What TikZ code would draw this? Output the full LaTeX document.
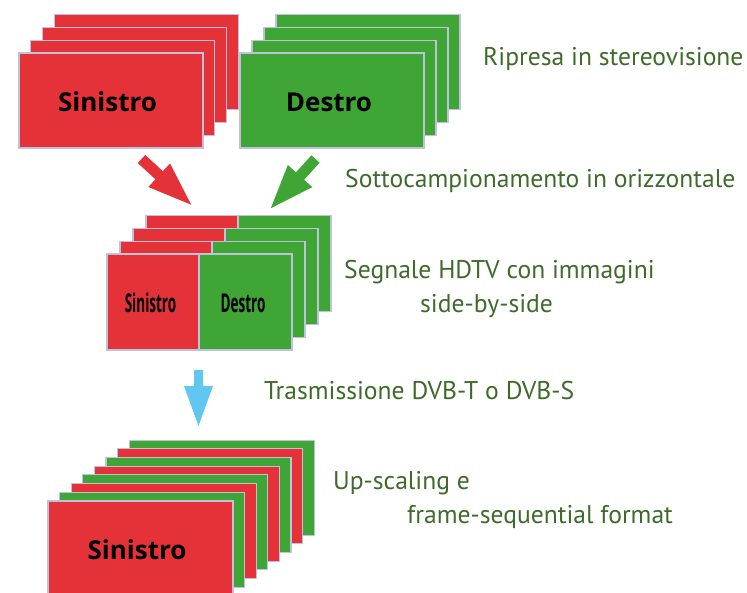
\documentclass[tikz,border=0pt]{standalone}
\usepackage{fontspec}
\setmainfont{PT Sans}
\newfontfamily\boxfont{Open Sans}
\definecolor{fred}{RGB}{229,49,56}
\definecolor{fgreen}{RGB}{63,165,53}
\definecolor{fblue}{RGB}{98,199,240}
\definecolor{ftext}{RGB}{62,106,42}
\definecolor{fedge}{RGB}{190,194,220}
\tikzset{
  frame/.style={draw=fedge, line width=1.1pt, anchor=north west, minimum width=184pt, minimum height=95pt, inner sep=0pt, outer sep=0pt},
  redframe/.style={frame, fill=fred},
  greenframe/.style={frame, fill=fgreen},
  halfred/.style={frame, fill=fred, minimum width=92pt, minimum height=96pt},
  halfgreen/.style={frame, fill=fgreen, minimum width=93pt, minimum height=96pt},
  boxtxt/.style={font=\boxfont\bfseries\fontsize{26}{26}\selectfont, anchor=base, inner sep=0pt},
  lbl/.style={font=\fontsize{25.6}{25.6}\selectfont, text=ftext, anchor=base west, inner sep=0pt},
}
\begin{document}
\begin{tikzpicture}[x=1pt,y=-1pt]
\useasboundingbox (0,0) rectangle (747,593);
\clip (0,0) rectangle (747,593);
% top red stack
\foreach \i in {3,2,1} {
  \node[redframe] (Lb\i) at ({19+11.8*\i},{53-12.7*\i}) {};
}
\node[redframe] (L) at (19,53) {};
\node[boxtxt] (Lt) at (107.5,112) {Sinistro};
% top green stack
\foreach \i in {3,2,1} {
  \node[greenframe] (Rb\i) at ({240+12*\i},{53-12.7*\i}) {};
}
\node[greenframe] (R) at (240,53) {};
\node[boxtxt] (Rt) at (329,112) {Destro};
% arrows down to the middle
\fill[fred, shift={(141.5,159)}, rotate=-42.6] (0,-5.5) -- (24,-5.5) -- (24,-16) -- (67.5,0) -- (24,16) -- (24,5.5) -- (0,5.5) -- cycle;
\fill[fgreen, shift={(315.5,159)}, rotate=-132.2] (0,-5.5) -- (23,-5.5) -- (23,-16.5) -- (66.5,0) -- (23,16.5) -- (23,5.5) -- (0,5.5) -- cycle;
% middle side-by-side stack
\foreach \i in {3,2,1} {
  \node[halfred] (Mr\i) at ({107+13*\i},{254-12.7*\i}) {};
  \node[halfgreen] (Mg\i) at ({199+13*\i},{254-12.7*\i}) {};
}
\node[halfred] (Mr) at (107,254) {};
\node[halfgreen] (Mg) at (199,254) {};
\node[boxtxt] (Mrt) at (150.5,313) {\scalebox{0.52}[1]{Sinistro}};
\node[boxtxt] (Mgt) at (243,313) {\scalebox{0.52}[1]{Destro}};
% blue arrow
\fill[fblue, shift={(198.5,370)}, rotate=-90] (0,-4.5) -- (16,-4.5) -- (16,-14.5) -- (56,0) -- (16,14.5) -- (16,4.5) -- (0,4.5) -- cycle;
% bottom frame-sequential stack
\foreach \i in {7,6,...,1} {
  \pgfmathtruncatemacro{\odd}{mod(\i,2)}
  \ifnum\odd=1
    \node[greenframe, minimum width=185pt] (B\i) at ({48+11.6*\i},{501-8.7*\i}) {};
  \else
    \node[redframe, minimum width=185pt] (B\i) at ({48+11.6*\i},{501-8.7*\i}) {};
  \fi
}
\node[redframe, minimum width=185pt] (B) at (48,501) {};
\node[boxtxt] (Bt) at (137,559) {Sinistro};
% labels
\node[lbl] (t1) at (483,66) {Ripresa in stereovisione};
\node[lbl] (t2) at (345,188) {Sottocampionamento in orizzontale};
\node[lbl] (t3) at (344,279) {Segnale HDTV con immagini};
\node[lbl] (t3b) at (420,313) {side-by-side};
\node[lbl] (t4) at (264,400) {Trasmissione DVB-T o DVB-S};
\node[lbl] (t5) at (333,489) {Up-scaling e};
\node[lbl] (t5b) at (407,523) {frame-sequential format};
\end{tikzpicture}
\end{document}
